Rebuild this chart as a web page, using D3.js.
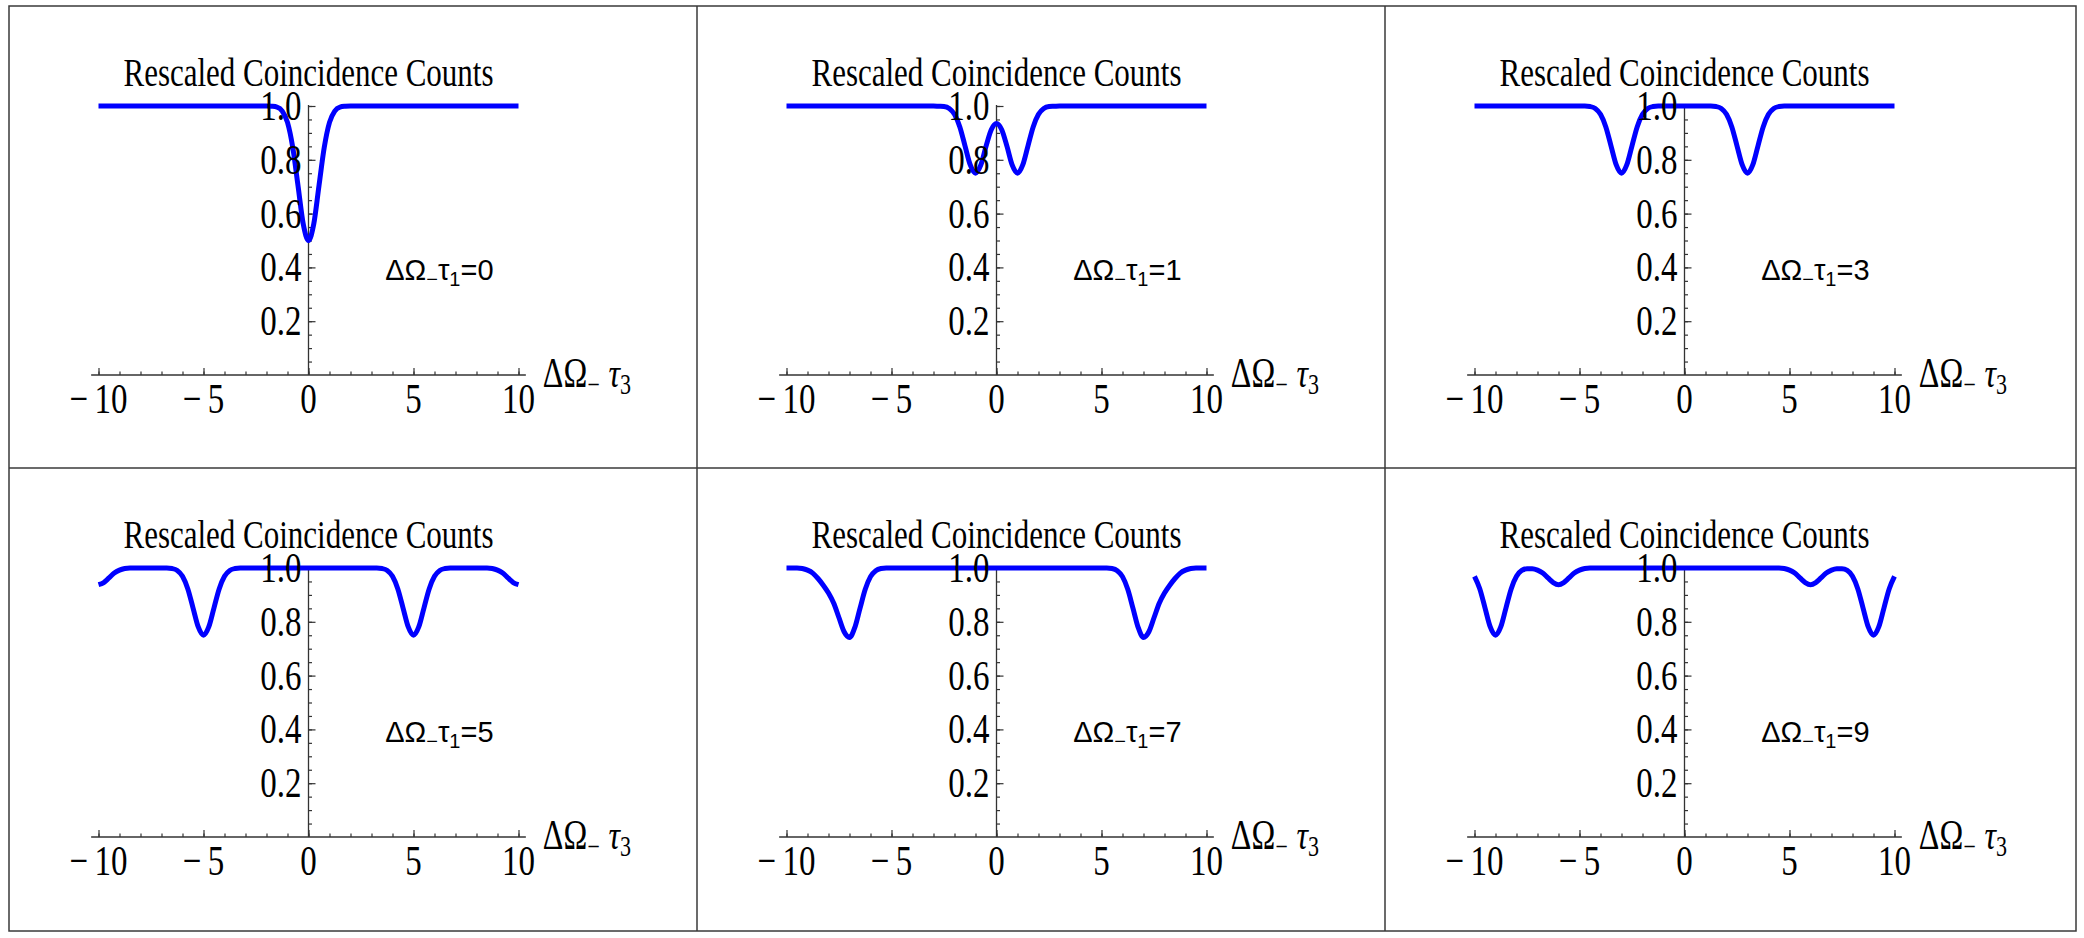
<html>
<head>
<script src="https://d3js.org/d3.v7.min.js"></script>
<style>
  body { margin: 0; background: #fff; }
  svg { display: block; }
  .serif { font-family: "Liberation Serif", "Times New Roman", serif; fill: #000; }
  .sans { font-family: "Liberation Sans", Arial, sans-serif; fill: #000; }
</style>
</head>
<body>
<svg id="grid" width="2084" height="938"></svg>
<script>
    // values of tau1 for each panel (left to right, top to bottom)
    const tau1Values = [0, 1, 3, 5, 7, 9];

    const xMajorTicks = [-10, -5, 0, 5, 10];
    const xMinorTicks = [-10, -9, -8, -7, -6, -5, -4, -3, -2, -1, 0, 1, 2, 3, 4, 5, 6, 7, 8, 9, 10];
    const yTickLabels = [0.2, 0.4, 0.6, 0.8, 1.0];
    const yMinorTicks = [0.05, 0.1, 0.15, 0.2, 0.25, 0.3, 0.35, 0.4, 0.45, 0.5, 0.55, 0.6, 0.65, 0.7, 0.75, 0.8, 0.85, 0.9, 0.95, 1.0];

    // curves: [ΔΩ- τ3, rescaled counts]
    const curveTau0 = [
        [-10, 1], [-2, 1], [-1.75, 0.999], [-1.5, 0.996], [-1.25, 0.981], [-1, 0.939], [-0.75, 0.846],
        [-0.5, 0.704], [-0.25, 0.561], [0, 0.5], [0.25, 0.561], [0.5, 0.704], [0.75, 0.846], [1, 0.939],
        [1.25, 0.981], [1.5, 0.996], [1.75, 0.999], [2, 1], [10, 1]
    ];
    const curveTau1 = [
        [-10, 1], [-3, 1], [-2.75, 0.999], [-2.5, 0.998], [-2.25, 0.991], [-2, 0.969], [-1.75, 0.923],
        [-1.5, 0.852], [-1.25, 0.781], [-1, 0.75], [-0.75, 0.78], [-0.5, 0.85], [-0.25, 0.912], [0, 0.935],
        [0.25, 0.912], [0.5, 0.85], [0.75, 0.78], [1, 0.75], [1.25, 0.781], [1.5, 0.852], [1.75, 0.923],
        [2, 0.969], [2.25, 0.991], [2.5, 0.998], [2.75, 0.999], [3, 1], [10, 1]
    ];
    const curveTau3 = [
        [-10, 1], [-4.75, 1], [-4.5, 0.998], [-4.25, 0.991], [-4, 0.969], [-3.75, 0.923], [-3.5, 0.852],
        [-3.25, 0.781], [-3, 0.75], [-2.75, 0.781], [-2.5, 0.852], [-2.25, 0.923], [-2, 0.969], [-1.75, 0.991],
        [-1.5, 0.998], [-1.25, 1], [1.25, 1], [1.5, 0.998], [1.75, 0.991], [2, 0.969], [2.25, 0.923],
        [2.5, 0.852], [2.75, 0.781], [3, 0.75], [3.25, 0.781], [3.5, 0.852], [3.75, 0.923], [4, 0.969],
        [4.25, 0.991], [4.5, 0.998], [4.75, 1], [10, 1]
    ];
    const curveTau5 = [
        [-10, 0.938], [-9.75, 0.946], [-9.5, 0.963], [-9.25, 0.981], [-9, 0.992], [-8.75, 0.998], [-8.5, 1],
        [-6.75, 1], [-6.5, 0.998], [-6.25, 0.991], [-6, 0.969], [-5.75, 0.923], [-5.5, 0.852], [-5.25, 0.781],
        [-5, 0.75], [-4.75, 0.781], [-4.5, 0.852], [-4.25, 0.923], [-4, 0.969], [-3.75, 0.991], [-3.5, 0.998],
        [-3.25, 1], [3.25, 1], [3.5, 0.998], [3.75, 0.991], [4, 0.969], [4.25, 0.923], [4.5, 0.852],
        [4.75, 0.781], [5, 0.75], [5.25, 0.781], [5.5, 0.852], [5.75, 0.923], [6, 0.969], [6.25, 0.991],
        [6.5, 0.998], [6.75, 1], [8.5, 1], [8.75, 0.998], [9, 0.992], [9.25, 0.981], [9.5, 0.963],
        [9.75, 0.946], [10, 0.938]
    ];
    const curveTau7 = [
        [-10, 1], [-9.5, 1], [-9.25, 0.998], [-9, 0.992], [-8.75, 0.981], [-8.5, 0.961], [-8.25, 0.936],
        [-8, 0.907], [-7.75, 0.869], [-7.5, 0.815], [-7.25, 0.762], [-7, 0.742], [-6.75, 0.778], [-6.5, 0.85],
        [-6.25, 0.921], [-6, 0.968], [-5.75, 0.99], [-5.5, 0.998], [-5.25, 1], [5.25, 1], [5.5, 0.998],
        [5.75, 0.99], [6, 0.968], [6.25, 0.921], [6.5, 0.85], [6.75, 0.778], [7, 0.742], [7.25, 0.762],
        [7.5, 0.815], [7.75, 0.869], [8, 0.907], [8.25, 0.936], [8.5, 0.961], [8.75, 0.981], [9, 0.992],
        [9.25, 0.998], [9.5, 1], [10, 1]
    ];
    const curveTau9 = [
        [-10, 0.969], [-9.75, 0.923], [-9.5, 0.852], [-9.25, 0.781], [-9, 0.75], [-8.75, 0.781], [-8.5, 0.852],
        [-8.25, 0.923], [-8, 0.969], [-7.75, 0.991], [-7.5, 0.997], [-7.25, 0.997], [-7, 0.992], [-6.75, 0.981],
        [-6.5, 0.963], [-6.25, 0.946], [-6, 0.938], [-5.75, 0.946], [-5.5, 0.963], [-5.25, 0.981], [-5, 0.992],
        [-4.75, 0.998], [-4.5, 1], [4.5, 1], [4.75, 0.998], [5, 0.992], [5.25, 0.981], [5.5, 0.963],
        [5.75, 0.946], [6, 0.938], [6.25, 0.946], [6.5, 0.963], [6.75, 0.981], [7, 0.992], [7.25, 0.997],
        [7.5, 0.997], [7.75, 0.991], [8, 0.969], [8.25, 0.923], [8.5, 0.852], [8.75, 0.781], [9, 0.75],
        [9.25, 0.781], [9.5, 0.852], [9.75, 0.923], [10, 0.969]
    ];
    const curves = [curveTau0, curveTau1, curveTau3, curveTau5, curveTau7, curveTau9];

    const svg = d3.select("#grid");

    // grid cells
    const colEdges = [9, 697, 1385, 2076];
    const rowEdges = [6, 468, 931];

    // serif glyphs in the original are tall and narrow
    const stretch = 1.3;
    const place = (px, py) => `translate(${px},${py}) scale(1,${stretch})`;

    svg.append("rect")
        .attr("x", 0).attr("y", 0)
        .attr("width", 2084).attr("height", 938)
        .attr("fill", "#fff");

    const fmtX = d => d < 0 ? "\u2212\u2009" + Math.abs(d) : String(d);
    const fmtY = d3.format(".1f");

    curves.forEach((data, i) => {
        const col = i % 3, row = Math.floor(i / 3);
        const cx = colEdges[col], cy = rowEdges[row];

        const x = d3.scaleLinear().domain([-10, 10]).range([cx + 89.5, cx + 509.5]);
        const y = d3.scaleLinear().domain([0, 1]).range([cy + 369, cy + 100]);

        const g = svg.append("g");

        // axis lines
        g.append("line")
            .attr("x1", x(-10.35)).attr("x2", x(10.35))
            .attr("y1", y(0)).attr("y2", y(0))
            .attr("stroke", "#333").attr("stroke-width", 1.3);
        g.append("line")
            .attr("x1", x(0)).attr("x2", x(0))
            .attr("y1", y(0)).attr("y2", y(1.004))
            .attr("stroke", "#333").attr("stroke-width", 1.3);

        // ticks (pointing inward)
        g.append("g").attr("transform", `translate(0,${y(0)})`)
            .call(d3.axisBottom(x).tickValues(xMinorTicks).tickSize(-3.5).tickFormat(""))
            .call(a => a.select(".domain").remove());
        g.append("g").attr("transform", `translate(0,${y(0)})`)
            .call(d3.axisBottom(x).tickValues(xMajorTicks).tickSize(-7).tickFormat(""))
            .call(a => a.select(".domain").remove());
        g.append("g").attr("transform", `translate(${x(0)},0)`)
            .call(d3.axisLeft(y).tickValues(yMinorTicks).tickSize(-3.5).tickFormat(""))
            .call(a => a.select(".domain").remove());
        g.append("g").attr("transform", `translate(${x(0)},0)`)
            .call(d3.axisLeft(y).tickValues(yTickLabels).tickSize(-7).tickFormat(""))
            .call(a => a.select(".domain").remove());
        g.selectAll(".tick line").attr("stroke", "#333").attr("stroke-width", 1.2);

        // curve
        const line = d3.line()
            .x(d => x(d[0]))
            .y(d => y(d[1]))
            .curve(d3.curveMonotoneX);
        g.append("path")
            .datum(data)
            .attr("d", line)
            .attr("fill", "none")
            .attr("stroke", "#0000ff")
            .attr("stroke-width", 5)
            .attr("stroke-linejoin", "round");

        // tick labels
        g.selectAll("text.xlab")
            .data(xMajorTicks)
            .join("text")
            .attr("class", "xlab serif")
            .attr("transform", d => place(x(d), y(0) + 38))
            .attr("text-anchor", "middle")
            .style("font-size", "33px")
            .text(fmtX);

        g.selectAll("text.ylab")
            .data(yTickLabels)
            .join("text")
            .attr("class", "ylab serif")
            .attr("transform", d => place(x(0) - 7, y(d) + 14))
            .attr("text-anchor", "end")
            .style("font-size", "33px")
            .text(fmtY);

        // plot label
        g.append("text")
            .attr("class", "serif")
            .attr("transform", place(x(0), y(1) - 20))
            .attr("text-anchor", "middle")
            .style("font-size", "31px")
            .text("Rescaled Coincidence Counts");

        // axis label  ΔΩ- τ3
        const ax = g.append("text")
            .attr("class", "serif")
            .attr("transform", place(x(10.35) + 17, y(0) + 12))
            .style("font-size", "32px");
        ax.append("tspan").text("ΔΩ");
        ax.append("tspan").attr("dy", 5).style("font-size", "22px").text("\u2212");
        ax.append("tspan").attr("dy", -5).attr("dx", 9).style("font-style", "italic").text("τ");
        ax.append("tspan").attr("dy", 5).style("font-size", "22px").text("3");

        // annotation  ΔΩ-τ1=n
        const an = g.append("text")
            .attr("class", "sans")
            .attr("x", x(3.65))
            .attr("y", y(0.355))
            .style("font-size", "29px");
        an.append("tspan").text("ΔΩ");
        an.append("tspan").attr("dy", 6).style("font-size", "20px").text("\u2212");
        an.append("tspan").attr("dy", -6).text("τ");
        an.append("tspan").attr("dy", 6).style("font-size", "20px").text("1");
        an.append("tspan").attr("dy", -6).text("=" + tau1Values[i]);
    });

    // frame around the grid
    const frame = svg.append("g")
        .attr("stroke", "#3a3a3a")
        .attr("stroke-width", 1.5)
        .attr("fill", "none");
    frame.append("rect")
        .attr("x", colEdges[0]).attr("y", rowEdges[0])
        .attr("width", colEdges[3] - colEdges[0])
        .attr("height", rowEdges[2] - rowEdges[0]);
    frame.selectAll("line.col")
        .data(colEdges.slice(1, 3))
        .join("line")
        .attr("x1", d => d).attr("x2", d => d)
        .attr("y1", rowEdges[0]).attr("y2", rowEdges[2]);
    frame.append("line")
        .attr("x1", colEdges[0]).attr("x2", colEdges[3])
        .attr("y1", rowEdges[1]).attr("y2", rowEdges[1]);
</script>
</body>
</html>
